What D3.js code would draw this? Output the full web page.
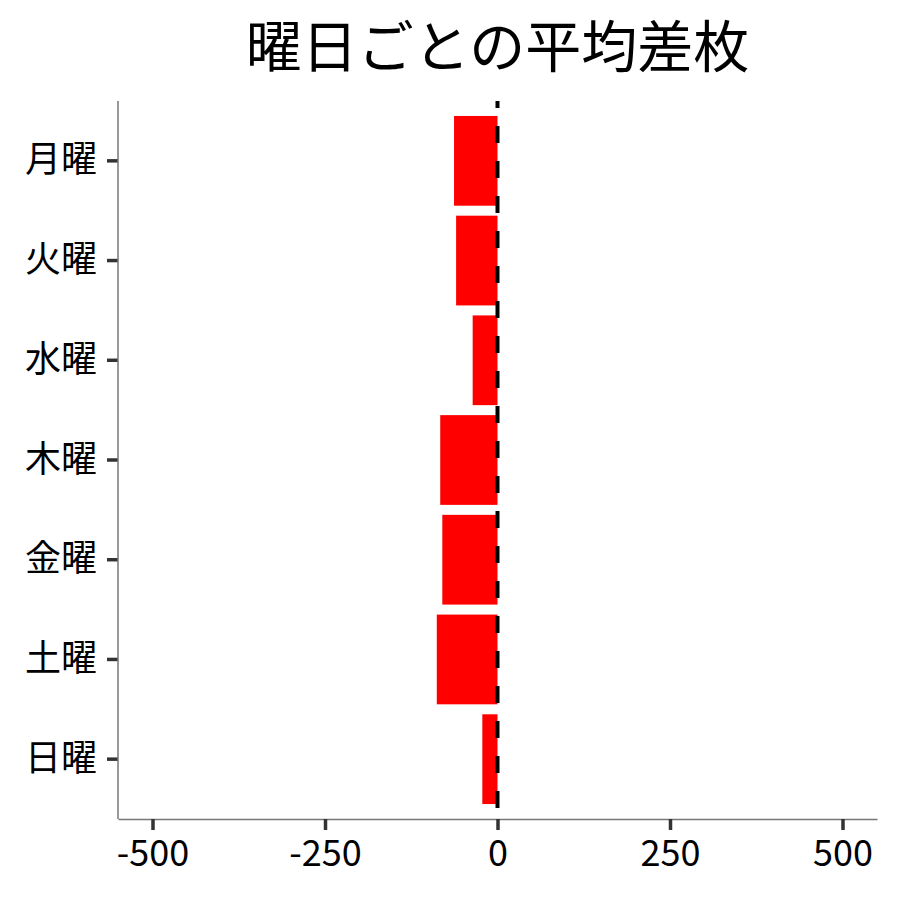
<!DOCTYPE html>
<html>
<head>
<meta charset="utf-8">
<script src="https://cdn.jsdelivr.net/npm/d3@7"></script>
<style>
  body { margin: 0; background: #fff; }
  text { font-family: "Noto Sans CJK JP", "Noto Sans", sans-serif; fill: #000; }
</style>
</head>
<body>
<div id="wrapper"></div>
<script>
// data
const days = ['月曜', '火曜', '水曜', '木曜', '金曜', '土曜', '日曜']
const avgDiff = [-63, -60, -36, -83, -80, -88, -22]
const xTicks = [-500, -250, 0, 250, 500]
const titleText = '曜日ごとの平均差枚'

function drawChart() {
  const dimensions = {
    width: 900,
    height: 900,
    margin: { top: 101, right: 23, bottom: 81, left: 118 },
  }
  dimensions.boundedWidth = dimensions.width - dimensions.margin.left - dimensions.margin.right
  dimensions.boundedHeight = dimensions.height - dimensions.margin.top - dimensions.margin.bottom

  const svg = d3.select('#wrapper')
    .append('svg')
      .attr('width', dimensions.width)
      .attr('height', dimensions.height)

  const bounds = svg.append('g')
      .attr('transform', `translate(${dimensions.margin.left}, ${dimensions.margin.top})`)

  // scales
  const xScale = d3.scaleLinear()
    .domain([-550, 550])
    .range([0, dimensions.boundedWidth])

  // ggplot-style discrete expansion: 0.6 of a step each side
  const step = dimensions.boundedHeight / (days.length + 0.2)
  const yScale = d3.scaleBand()
    .domain(days)
    .range([step * 0.1, dimensions.boundedHeight - step * 0.1])
    .paddingInner(0.1)
    .paddingOuter(0.05)

  // bars
  bounds.append('g')
    .selectAll('rect')
    .data(days)
    .join('rect')
      .attr('x', (d, i) => xScale(Math.min(0, avgDiff[i])))
      .attr('width', (d, i) => Math.abs(xScale(avgDiff[i]) - xScale(0)))
      .attr('y', d => yScale(d))
      .attr('height', yScale.bandwidth())
      .attr('fill', '#ff0000')

  // zero line
  bounds.append('line')
    .attr('x1', xScale(0))
    .attr('x2', xScale(0))
    .attr('y1', 0)
    .attr('y2', dimensions.boundedHeight)
    .attr('stroke', '#000')
    .attr('stroke-width', 4)
    .attr('stroke-dasharray', '17,18')
    .attr('stroke-dashoffset', 10)

  // axes
  const xAxis = bounds.append('g')
    .attr('transform', `translate(0, ${dimensions.boundedHeight})`)
    .call(d3.axisBottom(xScale).tickValues(xTicks).tickSize(11).tickSizeOuter(0).tickFormat(d => String(d)))
  xAxis.select('.domain').attr('stroke', '#777').attr('stroke-width', 1.5)
  xAxis.selectAll('.tick line').attr('stroke', '#333').attr('stroke-width', 3.5)
  xAxis.selectAll('.tick text')
    .attr('y', 21)
    .attr('dy', '0.71em')
    .style('font-size', '36px')
    .attr('fill', '#000')

  const yAxis = bounds.append('g')
    .call(d3.axisLeft(yScale).tickSize(11).tickSizeOuter(0))
  yAxis.select('.domain').remove()
  yAxis.append('line')
    .attr('y1', 0)
    .attr('y2', dimensions.boundedHeight)
    .attr('stroke', '#777')
    .attr('stroke-width', 1.5)
  yAxis.selectAll('.tick line').attr('stroke', '#333').attr('stroke-width', 3.5)
  yAxis.selectAll('.tick text')
    .attr('x', -21)
    .style('font-size', '36px')
    .attr('fill', '#000')

  // title
  svg.append('text')
    .attr('x', dimensions.margin.left + dimensions.boundedWidth / 2)
    .attr('y', 42)
    .attr('text-anchor', 'middle')
    .attr('dominant-baseline', 'central')
    .style('font-size', '56px')
    .text(titleText)
}
drawChart()
</script>
</body>
</html>
